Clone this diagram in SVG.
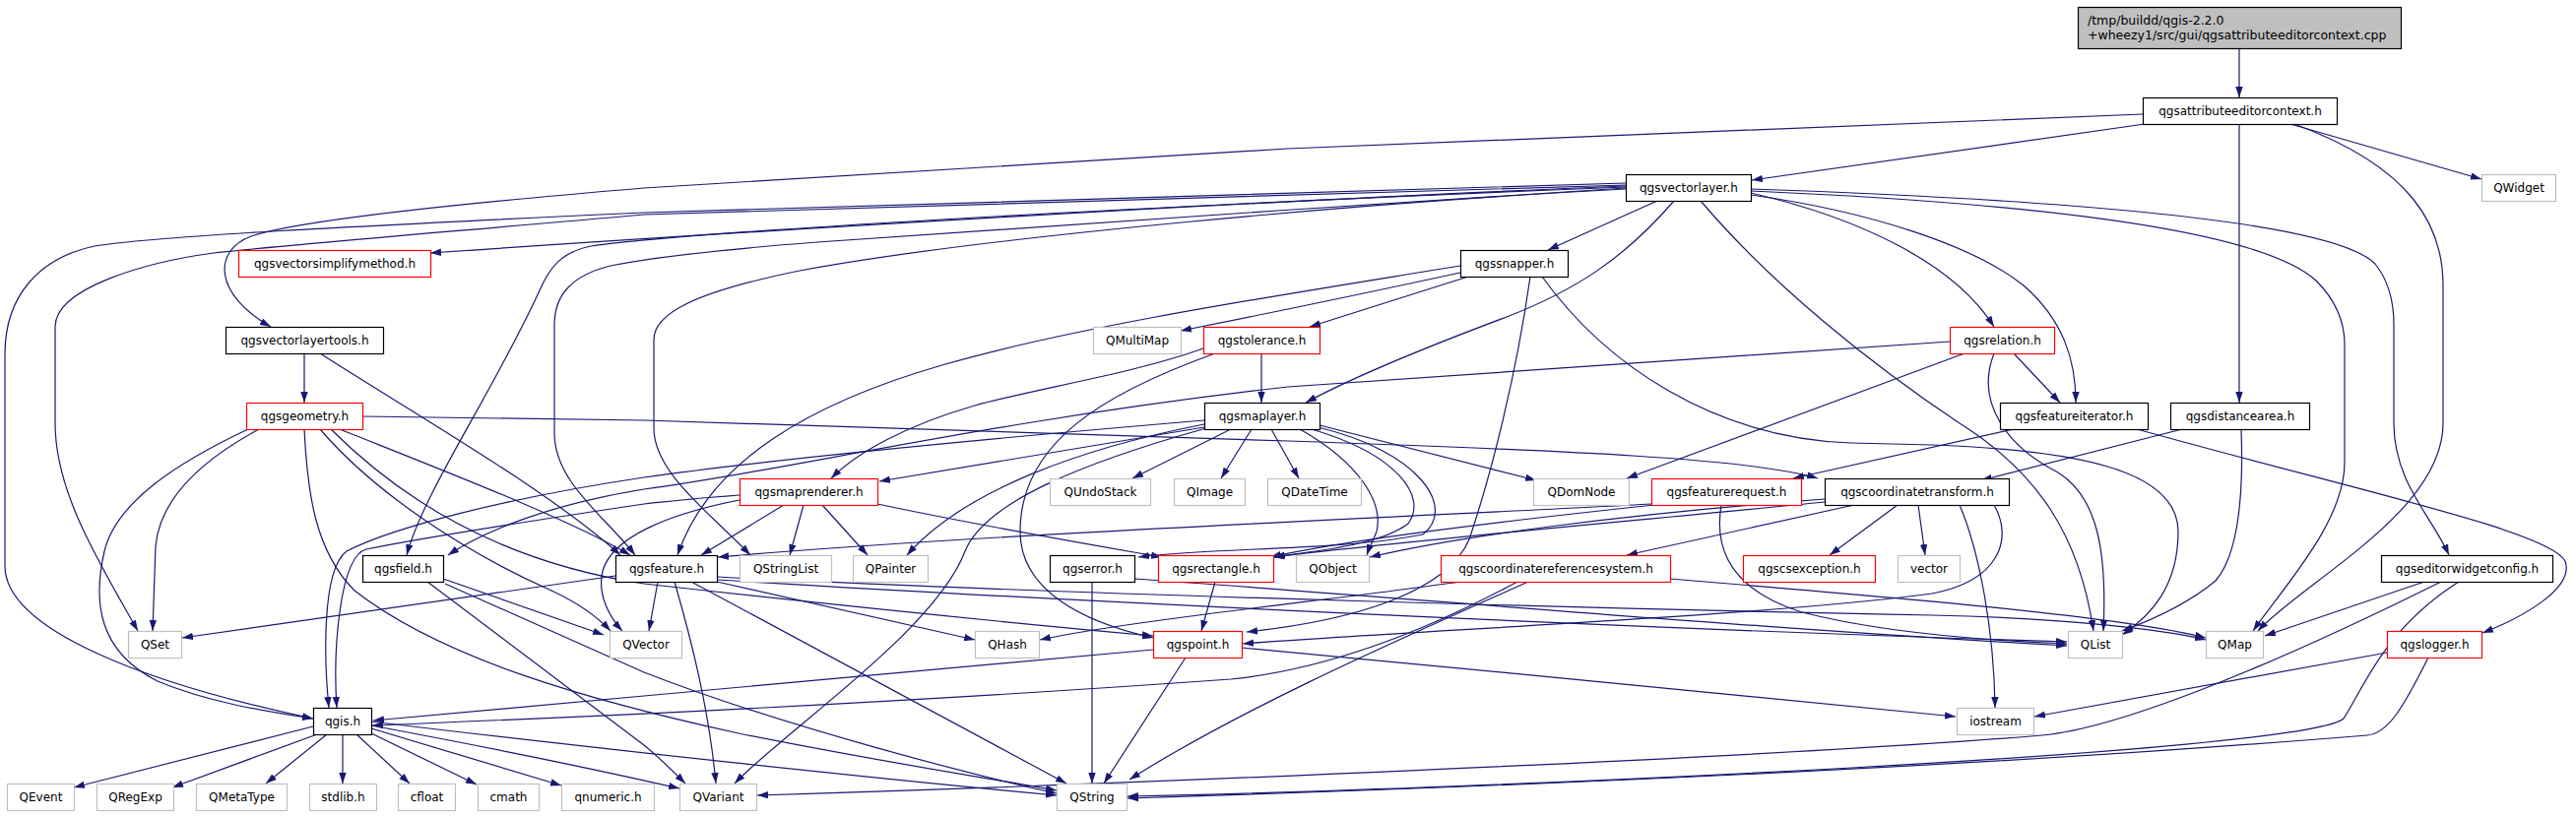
<svg xmlns="http://www.w3.org/2000/svg" width="2616" height="829" viewBox="0 0 2616 829">
<defs>
<style>
.e path{fill:none;stroke:#191970;stroke-width:1.2;marker-end:url(#ah)}
.nd rect{fill:#fff;stroke-width:1.2}
.b rect{stroke:#000}
.r rect{stroke:#ff0000}
.g rect{stroke:#bfbfbf}
.nd text{font-family:"DejaVu Sans","Liberation Sans",sans-serif;font-size:12px;fill:#000;text-anchor:middle}
</style>
<marker id="ah" markerWidth="11" markerHeight="8" refX="11" refY="4" orient="auto" markerUnits="userSpaceOnUse"><path d="M0,0.3 L11,4 L0,7.7 Z" fill="#191970"/></marker>
</defs>
<rect x="0" y="0" width="2616" height="829" style="fill:#fff;stroke:none"/>
<g id="connectors" class="e">
<path d="M2274,49 L2274,99"/>
<path d="M2178,126 L1779,183"/>
<path d="M2326,126 L2520,182"/>
<path d="M2274,126 L2274,409"/>
<path d="M2176,116 L1308,151 L654,191 C450,208 300,225 255,240 C215,255 218,300 275,332"/>
<path d="M2330,126 C2450,170 2481,230 2481,290 L2481,430 C2481,520 2340,590 2293,641"/>
<path d="M1651,189 C1300,203 800,232 437,257"/>
<path d="M1683,204 L1572,254"/>
<path d="M1778,196 C1890,222 1985,268 2025,332"/>
<path d="M1778,198 C1900,215 2005,250 2055,290 C2095,325 2108,365 2108,409"/>
<path d="M1700,204 C1650,262 1600,295 1530,322 C1450,352 1380,380 1326,409"/>
<path d="M1778,192 C2100,203 2370,225 2412,268 C2428,288 2431,310 2431,330 L2431,430 C2431,490 2470,525 2487,564"/>
<path d="M1778,194 C2100,208 2300,238 2352,285 C2375,308 2381,330 2381,350 L2381,470 C2381,530 2320,595 2288,641"/>
<path d="M1727,204 C1800,290 1900,370 1990,430 C2070,480 2112,545 2126,641"/>
<path d="M1651,188 L654,218 C450,236 300,248 217,257 C150,266 56,292 56,332 L56,430 C56,500 100,570 140,641"/>
<path d="M1651,186 L654,216 C350,230 160,240 96,250 C40,262 5,300 5,360 L5,575 C5,640 150,695 318,730"/>
<path d="M1651,192 C1400,205 1000,240 812,275 C700,298 664,320 664,345 L664,435 C664,480 720,520 762,564"/>
<path d="M1651,190 C1100,212 700,236 600,250 C570,256 558,272 548,295 C500,400 430,500 413,564"/>
<path d="M1651,191 C1400,206 1000,235 830,246 C740,253 660,262 620,270 C580,280 563,300 563,330 L563,440 C563,490 615,525 645,564"/>
<path d="M1483,277 C1400,295 1300,316 1199,336"/>
<path d="M1491,281 L1330,332"/>
<path d="M1483,270 C1300,300 1100,330 960,370 C820,410 720,470 688,564"/>
<path d="M1566,281 C1630,370 1740,445 1880,450 L1962,452 C2100,457 2212,475 2212,540 C2212,595 2185,625 2155,645"/>
<path d="M1554,281 C1540,380 1515,480 1492,548 C1470,600 1380,630 1266,642"/>
<path d="M1281,359 L1281,409"/>
<path d="M1222,354 C1150,380 1050,395 990,412 C920,432 870,460 844,486"/>
<path d="M1234,359 C1120,400 1036,450 1036,540 C1036,600 1100,632 1171,648"/>
<path d="M2045,359 L2092,409"/>
<path d="M1995,359 L1652,486"/>
<path d="M1980,347 L1308,393 C1000,428 800,478 654,497 C560,512 490,540 455,564"/>
<path d="M2025,359 C2005,410 2040,455 2090,480 C2130,505 2140,560 2136,641"/>
<path d="M2045,436 L1821,486"/>
<path d="M2170,436 C2400,500 2590,540 2605,570 C2615,598 2560,628 2521,643"/>
<path d="M2216,436 L2012,488"/>
<path d="M2276,436 C2278,490 2276,560 2250,590 C2220,615 2185,630 2155,641"/>
<path d="M368,423 L654,427 L1308,448 C1600,458 1780,466 1846,486"/>
<path d="M252,436 C180,470 118,510 106,560 C94,612 100,662 160,692 C210,713 270,723 318,730"/>
<path d="M263,436 C200,470 162,510 158,555 L155,641"/>
<path d="M309,436 C312,500 320,560 360,600 C450,670 600,712 750,745 C900,775 1000,790 1073,803"/>
<path d="M325,436 C380,500 470,560 560,600 C590,614 608,628 620,641"/>
<path d="M345,436 C450,478 580,528 640,564"/>
<path d="M336,436 C400,500 500,570 654,593 C850,615 1050,635 1171,646"/>
<path d="M309,359 L309,409"/>
<path d="M325,359 C420,420 560,500 630,564"/>
<path d="M1250,436 L1150,486"/>
<path d="M1271,436 L1240,486"/>
<path d="M1291,436 L1319,486"/>
<path d="M1340,432 L1560,488"/>
<path d="M1223,434 L893,489"/>
<path d="M1223,431 C1100,455 980,497 921,564"/>
<path d="M1225,435 C1100,470 1000,510 980,560 C950,640 800,740 746,796"/>
<path d="M1223,427 C950,450 760,470 654,485 C520,505 400,535 352,560 C325,580 330,680 334,719"/>
<path d="M1320,436 C1380,470 1405,510 1398,540 C1393,552 1390,558 1388,564"/>
<path d="M1332,436 C1420,462 1450,505 1430,532 C1400,555 1330,560 1294,566"/>
<path d="M1338,434 C1440,458 1480,515 1445,543 C1360,560 1230,556 1156,566"/>
<path d="M796,513 L712,564"/>
<path d="M816,513 L802,564"/>
<path d="M835,513 L881,564"/>
<path d="M891,512 C1000,535 1100,552 1180,566"/>
<path d="M751,508 C680,522 622,545 612,580 C606,605 620,628 632,641"/>
<path d="M751,503 C700,507 670,510 654,512 C520,532 420,548 372,558 C345,565 338,660 342,719"/>
<path d="M1677,512 C1500,522 1000,542 729,566"/>
<path d="M1680,513 C1520,530 1360,550 1290,566"/>
<path d="M1748,513 C1740,560 1760,600 1830,622 C1900,640 2000,650 2099,654"/>
<path d="M1853,507 C1650,522 1480,545 1391,566"/>
<path d="M1853,510 C1650,530 1420,550 1293,566"/>
<path d="M2025,513 C2045,548 2030,590 1962,603 C1800,625 1450,640 1262,654"/>
<path d="M1883,513 L1652,564"/>
<path d="M1927,513 L1858,564"/>
<path d="M1948,513 L1955,564"/>
<path d="M1990,513 C2010,560 2025,640 2026,719"/>
<path d="M1483,591 C1350,610 1150,630 1056,650"/>
<path d="M1541,591 C1450,640 1350,680 1250,690 C900,715 600,728 378,737"/>
<path d="M1552,591 C1420,650 1260,720 1147,792"/>
<path d="M1696,588 C1900,605 2150,625 2240,648"/>
<path d="M728,586 C1100,605 1700,620 1962,625 C2100,628 2200,640 2240,650"/>
<path d="M728,589 C1100,612 1700,640 2099,652"/>
<path d="M1152,588 C1400,605 1800,640 2099,656"/>
<path d="M728,591 L990,650"/>
<path d="M668,591 L659,641"/>
<path d="M685,591 C702,650 720,720 727,796"/>
<path d="M702,591 L1083,796"/>
<path d="M625,585 L185,648"/>
<path d="M450,588 L613,645"/>
<path d="M434,591 L654,757 C670,770 685,785 696,796"/>
<path d="M452,593 L654,683 C800,740 1000,790 1073,806"/>
<path d="M1109,591 L1109,796"/>
<path d="M1234,591 L1220,641"/>
<path d="M1171,660 L654,707 C550,717 450,725 379,732"/>
<path d="M1261,658 C1500,680 1800,710 1986,728"/>
<path d="M1204,668 L1121,796"/>
<path d="M2424,663 L2066,728"/>
<path d="M2466,668 C2440,720 2425,745 2404,747 C2000,780 1500,800 1145,811"/>
<path d="M2462,591 L2300,646"/>
<path d="M2479,591 C2300,680 2150,740 2074,747 C1800,770 1100,798 769,808"/>
<path d="M2497,591 C2420,640 2400,700 2380,730 C2340,765 1500,802 1145,809"/>
<path d="M318,738 L75,800"/>
<path d="M322,746 L175,800"/>
<path d="M332,746 L270,796"/>
<path d="M348,746 L348,796"/>
<path d="M362,746 L416,796"/>
<path d="M377,745 L484,797"/>
<path d="M377,740 L570,798"/>
<path d="M377,737 C500,760 620,785 690,801"/>
<path d="M377,733 C600,760 900,792 1073,808"/>
</g>
<g id="n_root" class="nd b"><rect x="2110.5" y="7.5" width="328" height="42" style="fill:#bfbfbf"/><text x="2120" y="25" style="text-anchor:start;font-size:12.5px">/tmp/buildd/qgis-2.2.0</text><text x="2120" y="40" style="text-anchor:start;font-size:12.5px">+wheezy1/src/gui/qgsattributeeditorcontext.cpp</text></g>
<g id="n_attrctx" class="nd b"><rect x="2176.5" y="99.5" width="197" height="27"/><text x="2275" y="117">qgsattributeeditorcontext.h</text></g>
<g id="n_qwidget" class="nd g"><rect x="2520.5" y="177.5" width="75" height="27"/><text x="2558" y="195">QWidget</text></g>
<g id="n_vectorlayer" class="nd b"><rect x="1651.5" y="177.5" width="127" height="27"/><text x="1715" y="195">qgsvectorlayer.h</text></g>
<g id="n_vsimplify" class="nd r"><rect x="242.5" y="254.5" width="195" height="27"/><text x="340" y="272">qgsvectorsimplifymethod.h</text></g>
<g id="n_snapper" class="nd b"><rect x="1483.5" y="254.5" width="109" height="27"/><text x="1538" y="272">qgssnapper.h</text></g>
<g id="n_vltools" class="nd b"><rect x="229.5" y="332.5" width="160" height="27"/><text x="309.5" y="350">qgsvectorlayertools.h</text></g>
<g id="n_qmultimap" class="nd g"><rect x="1110.5" y="332.5" width="89" height="27"/><text x="1155" y="350">QMultiMap</text></g>
<g id="n_tolerance" class="nd r"><rect x="1222.5" y="332.5" width="118" height="27"/><text x="1281.5" y="350">qgstolerance.h</text></g>
<g id="n_relation" class="nd r"><rect x="1980.5" y="332.5" width="106" height="27"/><text x="2033.5" y="350">qgsrelation.h</text></g>
<g id="n_geometry" class="nd r"><rect x="250.5" y="409.5" width="118" height="27"/><text x="309.5" y="427">qgsgeometry.h</text></g>
<g id="n_maplayer" class="nd b"><rect x="1223.5" y="409.5" width="117" height="27"/><text x="1282" y="427">qgsmaplayer.h</text></g>
<g id="n_featureiterator" class="nd b"><rect x="2031.5" y="409.5" width="150" height="27"/><text x="2106.5" y="427">qgsfeatureiterator.h</text></g>
<g id="n_distancearea" class="nd b"><rect x="2204.5" y="409.5" width="141" height="27"/><text x="2275" y="427">qgsdistancearea.h</text></g>
<g id="n_maprenderer" class="nd r"><rect x="751.5" y="486.5" width="140" height="27"/><text x="821.5" y="504">qgsmaprenderer.h</text></g>
<g id="n_qundostack" class="nd g"><rect x="1066.5" y="486.5" width="102" height="27"/><text x="1117.5" y="504">QUndoStack</text></g>
<g id="n_qimage" class="nd g"><rect x="1192.5" y="486.5" width="72" height="27"/><text x="1228.5" y="504">QImage</text></g>
<g id="n_qdatetime" class="nd g"><rect x="1287.5" y="486.5" width="95" height="27"/><text x="1335" y="504">QDateTime</text></g>
<g id="n_qdomnode" class="nd g"><rect x="1557.5" y="486.5" width="97" height="27"/><text x="1606" y="504">QDomNode</text></g>
<g id="n_featurerequest" class="nd r"><rect x="1677.5" y="486.5" width="152" height="27"/><text x="1753.5" y="504">qgsfeaturerequest.h</text></g>
<g id="n_coordtransform" class="nd b"><rect x="1853.5" y="486.5" width="187" height="27"/><text x="1947" y="504">qgscoordinatetransform.h</text></g>
<g id="n_field" class="nd b"><rect x="368.5" y="564.5" width="82" height="27"/><text x="409.5" y="582">qgsfield.h</text></g>
<g id="n_feature" class="nd b"><rect x="625.5" y="564.5" width="103" height="27"/><text x="677" y="582">qgsfeature.h</text></g>
<g id="n_qstringlist" class="nd g"><rect x="751.5" y="564.5" width="93" height="27"/><text x="798" y="582">QStringList</text></g>
<g id="n_qpainter" class="nd g"><rect x="866.5" y="564.5" width="76" height="27"/><text x="904.5" y="582">QPainter</text></g>
<g id="n_error" class="nd b"><rect x="1066.5" y="564.5" width="86" height="27"/><text x="1109.5" y="582">qgserror.h</text></g>
<g id="n_rectangle" class="nd r"><rect x="1176.5" y="564.5" width="117" height="27"/><text x="1235" y="582">qgsrectangle.h</text></g>
<g id="n_qobject" class="nd g"><rect x="1316.5" y="564.5" width="74" height="27"/><text x="1353.5" y="582">QObject</text></g>
<g id="n_crs" class="nd r"><rect x="1463.5" y="564.5" width="233" height="27"/><text x="1580" y="582">qgscoordinatereferencesystem.h</text></g>
<g id="n_csexception" class="nd r"><rect x="1770.5" y="564.5" width="134" height="27"/><text x="1837.5" y="582">qgscsexception.h</text></g>
<g id="n_vector" class="nd g"><rect x="1927.5" y="564.5" width="63" height="27"/><text x="1959" y="582">vector</text></g>
<g id="n_editorwidgetconfig" class="nd b"><rect x="2418.5" y="564.5" width="174" height="27"/><text x="2505.5" y="582">qgseditorwidgetconfig.h</text></g>
<g id="n_qset" class="nd g"><rect x="130.5" y="641.5" width="54" height="27"/><text x="157.5" y="659">QSet</text></g>
<g id="n_qvector" class="nd g"><rect x="619.5" y="641.5" width="73" height="27"/><text x="656" y="659">QVector</text></g>
<g id="n_qhash" class="nd g"><rect x="990.5" y="641.5" width="65" height="27"/><text x="1023" y="659">QHash</text></g>
<g id="n_point" class="nd r"><rect x="1171.5" y="641.5" width="90" height="27"/><text x="1216.5" y="659">qgspoint.h</text></g>
<g id="n_qlist" class="nd g"><rect x="2100.5" y="641.5" width="55" height="27"/><text x="2128" y="659">QList</text></g>
<g id="n_qmap" class="nd g"><rect x="2240.5" y="641.5" width="58" height="27"/><text x="2269.5" y="659">QMap</text></g>
<g id="n_logger" class="nd r"><rect x="2424.5" y="641.5" width="96" height="27"/><text x="2472.5" y="659">qgslogger.h</text></g>
<g id="n_qgis" class="nd b"><rect x="318.5" y="719.5" width="59" height="27"/><text x="348" y="737">qgis.h</text></g>
<g id="n_iostream" class="nd g"><rect x="1987.5" y="719.5" width="78" height="27"/><text x="2026.5" y="737">iostream</text></g>
<g id="n_qevent" class="nd g"><rect x="7.5" y="796.5" width="68" height="27"/><text x="41.5" y="814">QEvent</text></g>
<g id="n_qregexp" class="nd g"><rect x="98.5" y="796.5" width="78" height="27"/><text x="137.5" y="814">QRegExp</text></g>
<g id="n_qmetatype" class="nd g"><rect x="199.5" y="796.5" width="92" height="27"/><text x="245.5" y="814">QMetaType</text></g>
<g id="n_stdlib" class="nd g"><rect x="314.5" y="796.5" width="68" height="27"/><text x="348.5" y="814">stdlib.h</text></g>
<g id="n_cfloat" class="nd g"><rect x="404.5" y="796.5" width="58" height="27"/><text x="433.5" y="814">cfloat</text></g>
<g id="n_cmath" class="nd g"><rect x="485.5" y="796.5" width="62" height="27"/><text x="516.5" y="814">cmath</text></g>
<g id="n_qnumeric" class="nd g"><rect x="570.5" y="796.5" width="94" height="27"/><text x="617.5" y="814">qnumeric.h</text></g>
<g id="n_qvariant" class="nd g"><rect x="690.5" y="796.5" width="78" height="27"/><text x="729.5" y="814">QVariant</text></g>
<g id="n_qstring" class="nd g"><rect x="1073.5" y="796.5" width="71" height="27"/><text x="1109" y="814">QString</text></g>
</svg>
